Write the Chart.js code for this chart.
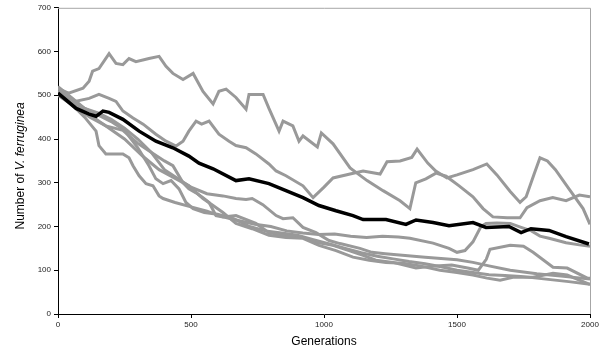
<!DOCTYPE html>
<html>
<head>
<meta charset="utf-8">
<script src="https://cdn.jsdelivr.net/npm/chart.js@4.4.1/dist/chart.umd.min.js"></script>
<style>
  html, body { margin: 0; padding: 0; background: #fff; }
  #wrap { width: 603px; height: 354px; }
</style>
</head>
<body>
<div id="wrap"><canvas id="runs"></canvas></div>
<script>
// Simulated population runs of V. ferruginea over 2000 generations.
// Each run is a list of [generation, count].
const xTicks = [0, 500, 1000, 1500, 2000];
const yTicks = [0, 100, 200, 300, 400, 500, 600, 700];

const run1 = [[0,515],[40,505],[94,516],[117,532],[130,555],[154,561],[192,595],[218,573],[244,570],[267,584],[293,577],[342,584],[380,589],[406,566],[432,550],[470,536],[508,550],[545,509],[583,480],[605,509],[632,514],[669,495],[707,468],[718,502],[771,502],[793,470],[831,418],[846,441],[883,430],[906,395],[921,407],[975,382],[990,414],[1034,389],[1098,334],[1162,305],[1222,282],[1286,259],[1323,241],[1345,300],[1383,309],[1421,322],[1459,315],[1508,293],[1560,268],[1598,241],[1635,222],[1688,220],[1737,220],[1763,243],[1812,259],[1860,266],[1910,259],[1960,272],[2000,268]];

const run2 = [[0,516],[64,486],[117,493],[154,502],[192,493],[218,486],[244,464],[282,448],[320,434],[368,411],[406,395],[444,384],[470,395],[492,418],[519,441],[540,434],[568,441],[605,411],[643,395],[669,385],[707,380],[744,366],[793,343],[820,327],[857,316],[921,293],[959,266],[1000,290],[1034,311],[1098,320],[1147,327],[1211,320],[1237,348],[1286,350],[1330,358],[1350,377],[1390,345],[1420,327],[1462,311],[1500,318],[1560,330],[1612,343],[1650,318],[1700,280],[1737,255],[1760,268],[1790,320],[1812,357],[1840,350],[1870,330],[1921,286],[1974,241],[2000,205]];

const run3 = [[0,505],[50,480],[100,450],[143,418],[154,385],[180,366],[244,366],[267,357],[282,339],[305,316],[331,298],[357,293],[380,270],[395,264],[440,255],[500,245],[560,235],[620,222],[669,215],[740,205],[800,200],[860,190],[920,185],[980,182],[1040,183],[1100,178],[1160,175],[1220,178],[1280,176],[1323,173],[1410,162],[1470,150],[1500,141],[1530,145],[1560,165],[1590,200],[1609,207],[1650,208],[1700,207],[1741,198],[1780,190],[1812,178],[1846,173],[1910,163],[1960,158],[2000,155]];

const run4 = [[0,505],[60,480],[120,455],[180,430],[250,400],[320,360],[380,330],[444,309],[492,293],[545,264],[583,248],[620,232],[669,207],[730,195],[793,180],[857,175],[921,173],[981,157],[1045,145],[1109,130],[1170,123],[1233,118],[1297,116],[1360,110],[1436,100],[1500,95],[1560,89],[1613,82],[1662,77],[1710,84],[1786,84],[1861,93],[1914,89],[1990,70],[2000,68]];

const run5 = [[0,500],[60,475],[120,450],[180,430],[244,420],[300,390],[350,370],[400,350],[432,339],[470,300],[492,286],[519,277],[545,266],[568,255],[594,225],[620,222],[669,225],[744,207],[793,186],[846,180],[921,175],[970,164],[1034,157],[1094,145],[1147,134],[1195,123],[1259,118],[1346,105],[1420,110],[1480,112],[1540,105],[1580,100],[1610,125],[1624,148],[1700,157],[1750,155],[1786,141],[1861,107],[1914,105],[1990,82],[2000,82]];

const run6 = [[0,510],[50,490],[100,470],[150,460],[200,445],[250,425],[300,400],[350,370],[400,330],[450,310],[500,290],[560,275],[620,270],[669,264],[707,262],[730,264],[770,250],[820,225],[846,218],[883,220],[921,198],[970,186],[1019,168],[1060,161],[1135,150],[1180,141],[1230,138],[1305,134],[1380,130],[1440,127],[1500,124],[1560,118],[1620,110],[1700,100],[1800,92],[1900,86],[2000,80]];

const run7 = [[0,520],[50,495],[100,470],[150,455],[200,440],[250,420],[300,380],[342,339],[368,309],[395,298],[425,305],[455,286],[481,255],[508,241],[550,232],[600,228],[660,218],[720,200],[780,190],[840,185],[900,180],[960,170],[1020,160],[1080,150],[1140,140],[1200,132],[1260,126],[1320,120],[1380,115],[1440,108],[1500,100],[1560,95],[1620,90],[1680,88],[1740,86],[1800,82],[1860,78],[1920,74],[2000,68]];

// mean over runs (black)
const meanRun = [[0,505],[68,470],[117,457],[143,452],[169,464],[192,461],[244,445],[305,418],[368,395],[432,380],[492,361],[530,345],[583,332],[669,305],[718,309],[793,298],[857,282],[921,266],[981,248],[1045,236],[1109,225],[1147,216],[1233,216],[1308,205],[1346,215],[1410,209],[1470,202],[1560,209],[1609,198],[1695,200],[1741,186],[1778,195],[1846,191],[1910,177],[1996,160]];

const FONT = "'Liberation Sans', Arial, sans-serif";
const toPoints = (run) => run.map(([x, y]) => ({ x, y }));

const greyRuns = [run1, run2, run3, run4, run5, run6, run7].map((run) => ({
  data: toPoints(run),
  borderColor: "#999999",
  borderWidth: 3,
  order: 1,
}));

// grey frame on top and right, like the original spreadsheet plot
const framePlugin = {
  id: "frame",
  beforeDatasetsDraw(chart) {
    const { ctx, chartArea: a } = chart;
    ctx.save();
    ctx.strokeStyle = "#a6a6a6";
    ctx.lineWidth = 1;
    ctx.beginPath();
    ctx.moveTo(a.left, a.top + 0.5);
    ctx.lineTo(a.right + 0.5, a.top + 0.5);
    ctx.lineTo(a.right + 0.5, a.bottom);
    ctx.stroke();
    ctx.restore();
  },
};

// y title with italic species name
const yTitlePlugin = {
  id: "yTitle",
  afterDraw(chart) {
    const { ctx, chartArea: a } = chart;
    const plain = "Number of ";
    const italic = "V. ferruginea";
    ctx.save();
    ctx.font = "12px " + FONT;
    const w1 = ctx.measureText(plain).width;
    ctx.font = "italic 12px " + FONT;
    const w2 = ctx.measureText(italic).width;
    ctx.translate(21, (a.top + a.bottom) / 2 + 5);
    ctx.rotate(-Math.PI / 2);
    ctx.fillStyle = "#000";
    ctx.textBaseline = "middle";
    ctx.textAlign = "left";
    const start = -(w1 + w2) / 2;
    ctx.font = "12px " + FONT;
    ctx.fillText(plain, start, 0);
    ctx.font = "italic 12px " + FONT;
    ctx.fillText(italic, start + w1, 0);
    ctx.restore();
  },
};

new Chart(document.getElementById("runs"), {
  type: "scatter",
  data: {
    datasets: [
      {
        data: toPoints(meanRun),
        borderColor: "#000000",
        borderWidth: 3.5,
        order: 0,
      },
      ...greyRuns,
    ],
  },
  options: {
    responsive: true,
    maintainAspectRatio: false,
    animation: false,
    showLine: true,
    elements: { point: { radius: 0 }, line: { tension: 0 } },
    layout: { padding: { left: 0, right: 13, top: 6, bottom: 0 } },
    plugins: {
      legend: { display: false },
      tooltip: { enabled: false },
    },
    scales: {
      x: {
        type: "linear",
        min: 0,
        max: 2000,
        afterBuildTicks: (s) => { s.ticks = xTicks.map((v) => ({ value: v })); },
        afterFit: (s) => { s.height = 40; },
        grid: { drawOnChartArea: false, drawTicks: true, tickLength: 4, color: "#000" },
        border: { color: "#000", width: 1 },
        ticks: {
          font: { family: FONT, size: 8 },
          color: "#222",
          padding: 2,
          maxRotation: 0,
          callback: (v) => String(v),
        },
        title: {
          display: true,
          text: "Generations",
          font: { family: FONT, size: 12 },
          color: "#000",
          padding: { top: 0, bottom: 5 },
        },
      },
      y: {
        type: "linear",
        min: 0,
        max: 700,
        afterBuildTicks: (s) => { s.ticks = yTicks.map((v) => ({ value: v })); },
        afterFit: (s) => { s.width = 58; },
        grid: { drawOnChartArea: false, drawTicks: true, tickLength: 4, color: "#000" },
        border: { color: "#000", width: 1 },
        ticks: { font: { family: FONT, size: 8 }, color: "#222", padding: 3, callback: (v) => String(v) },
      },
    },
  },
  plugins: [framePlugin, yTitlePlugin],
});
</script>
</body>
</html>
